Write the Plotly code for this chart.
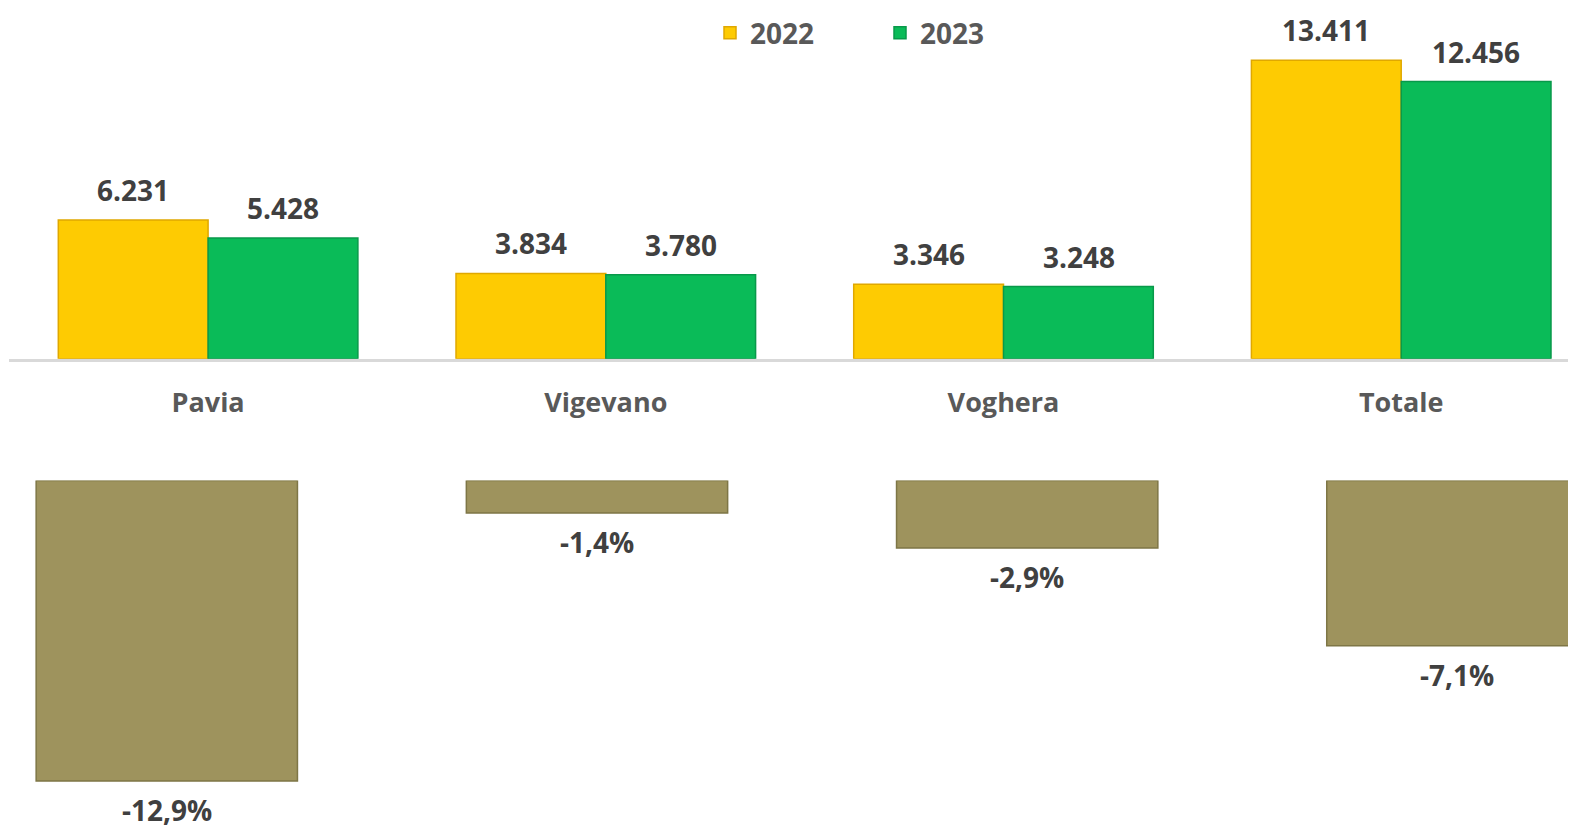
import plotly.graph_objects as go

categories = ["Pavia", "Vigevano", "Voghera", "Totale"]
values_2022 = [6231, 3834, 3346, 13411]
values_2023 = [5428, 3780, 3248, 12456]
pct_change = [-12.9, -1.4, -2.9, -7.1]

def fmt_int(v):
    return f"{v:,}".replace(",", ".")

def fmt_pct(v):
    return f"{v:.1f}%".replace(".", ",")

FONT = "Open Sans"
C22 = "#FECB02"
C23 = "#0ABB58"
COL = "#9E935D"

# page body has an 8px margin: figure is 1568x820 placed at (8, 8)
W, H = 1568, 820
OFF = 8
BASE = 358.8 - OFF      # top-chart baseline (figure px)
ZERO2 = 480.4 - OFF     # bottom-chart zero line (figure px)
PX_PER_UNIT = (358.8 - 60.3) / 13411
PX_PER_PCT = (781 - 480.4) / 12.9

fig = go.Figure()
fig.add_trace(go.Bar(
    x=categories, y=values_2022, name="2022",
    marker=dict(color=C22, line=dict(color="#E0A800", width=1.5)),
    xaxis="x", yaxis="y", hoverinfo="skip",
))
fig.add_trace(go.Bar(
    x=categories, y=values_2023, name="2023",
    marker=dict(color=C23, line=dict(color="#08994A", width=1.5)),
    xaxis="x", yaxis="y", hoverinfo="skip",
))
fig.add_trace(go.Bar(
    x=categories, y=pct_change, name="Var %", showlegend=False,
    width=0.6074,
    marker=dict(color=COL, line=dict(color="#7E7646", width=1.5)),
    xaxis="x2", yaxis="y2", hoverinfo="skip",
))

vfont = dict(family=FONT, size=28, color="#404040", weight="bold")
annotations = []
for c, v in zip(categories, values_2022):
    annotations.append(dict(x=c, y=v, xref="x", yref="y", text=fmt_int(v),
                            showarrow=False, xshift=-75, yshift=30, yanchor="middle",
                            font=vfont))
for c, v in zip(categories, values_2023):
    annotations.append(dict(x=c, y=v, xref="x", yref="y", text=fmt_int(v),
                            showarrow=False, xshift=75, yshift=30, yanchor="middle",
                            font=vfont))
for c, v in zip(categories, pct_change):
    annotations.append(dict(x=c, y=v, xref="x2", yref="y2", text=fmt_pct(v),
                            showarrow=False, yshift=-29, yanchor="middle",
                            font=vfont))

fig.update_layout(
    width=W, height=H,
    margin=dict(l=1, r=0, t=0, b=0),
    paper_bgcolor="white", plot_bgcolor="white",
    barmode="group", bargap=0.2467, bargroupgap=0,
    font=dict(family=FONT, color="#595959"),
    showlegend=True,
    legend=dict(orientation="h", x=(702 - 1) / 1567, xanchor="left",
                y=1, yanchor="top",
                entrywidth=125, entrywidthmode="pixels",
                font=dict(family=FONT, size=28, color="#595959", weight="bold"),
                bgcolor="rgba(0,0,0,0)"),
    xaxis=dict(domain=[0, 1], range=[-0.5006, 3.4395], anchor="y",
               showline=True, linecolor="#D9D9D9", linewidth=2.5,
               showgrid=False, zeroline=False, ticks="",
               ticklabelstandoff=18,
               tickfont=dict(family=FONT, size=27, color="#595959", weight="bold")),
    yaxis=dict(domain=[1 - BASE / H, 1], range=[0, BASE / PX_PER_UNIT], visible=False,
               showgrid=False, zeroline=False),
    xaxis2=dict(domain=[0, 1], range=[-0.3668, 3.2757], anchor="y2", visible=False,
                showgrid=False, zeroline=False),
    yaxis2=dict(domain=[0, 1 - ZERO2 / H], range=[-(H - ZERO2) / PX_PER_PCT, 0], visible=False,
                showgrid=False, zeroline=False),
    annotations=annotations,
)

fig.write_html("out.html")
